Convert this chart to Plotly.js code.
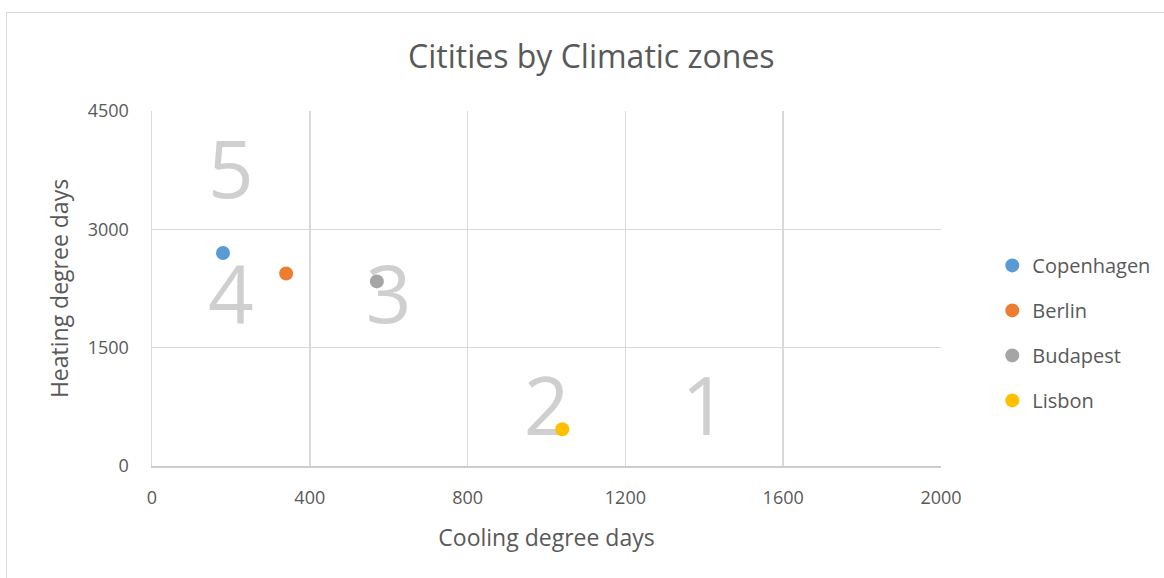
<!DOCTYPE html>
<html>
<head>
<meta charset="utf-8">
<script src="https://cdn.plot.ly/plotly-3.0.1.min.js"></script>
<style>
  html, body { margin: 0; padding: 0; background: #fff; overflow: hidden; }
  #chart { width: 1164px; height: 578px; position: absolute; left: 0; top: 0; }
  #frame { position: absolute; left: 6px; top: 12px; width: 1300px; height: 700px;
           border-left: 1.5px solid #d9d9d9; border-top: 1.5px solid #d9d9d9; pointer-events: none; }
</style>
</head>
<body>
<div id="chart"></div>
<div id="frame"></div>
<script>
// Data
const cities = ['Copenhagen', 'Berlin', 'Budapest', 'Lisbon'];
const coolingDD = [180, 340, 570, 1040];
const heatingDD = [2700, 2440, 2340, 465];
const cityColors = ['#5B9BD5', '#ED7D31', '#A5A5A5', '#FFC000'];

const zoneLabels = ['5', '4', '3', '2', '1'];
const zoneCooling = [200, 200, 600, 1000, 1400];
const zoneHeating = [3650, 2060, 2060, 650, 650];

const xTicks = [0, 400, 800, 1200, 1600, 2000];
const yTicks = [0, 1500, 3000, 4500];

const FONT = 'Open Sans, Noto Sans, Liberation Sans, sans-serif';
const TXT = '#595959';

const traces = [{
  type: 'scatter', mode: 'text',
  x: zoneCooling, y: zoneHeating, text: zoneLabels,
  textfont: { family: FONT, size: 80, color: '#cfcfcf' },
  showlegend: false, hoverinfo: 'skip'
}];

cities.forEach((c, i) => {
  traces.push({
    type: 'scatter', mode: 'markers', name: c,
    x: [coolingDD[i]], y: [heatingDD[i]],
    marker: { color: cityColors[i], size: 14 },
    legendgroup: c
  });
});

const layout = {
  width: 1164, height: 578,
  margin: { l: 152, r: 223, t: 111, b: 112, autoexpand: false },
  paper_bgcolor: '#ffffff', plot_bgcolor: '#ffffff',
  font: { family: FONT, color: TXT, size: 18 },
  title: {
    text: 'Citities by Climatic zones',
    font: { family: FONT, size: 32, color: TXT },
    x: 0.508, xref: 'container', xanchor: 'center',
    y: 1 - 57 / 578, yref: 'container', yanchor: 'middle'
  },
  xaxis: {
    range: [0, 2000], tickvals: xTicks, ticktext: xTicks.map(String),
    showgrid: true, gridcolor: '#d9d9d9', gridwidth: 1.5,
    zeroline: false, showline: true, linecolor: '#cccccc', linewidth: 1.5,
    ticks: '', ticklabelstandoff: 15,
    tickfont: { family: FONT, size: 18, color: TXT },
    title: { text: 'Cooling degree days', font: { family: FONT, size: 23, color: TXT }, standoff: 22 },
    fixedrange: true
  },
  yaxis: {
    range: [0, 4500], tickvals: yTicks, ticktext: yTicks.map(String),
    showgrid: true, gridcolor: '#d9d9d9', gridwidth: 1.5,
    zeroline: false, showline: true, linecolor: '#d9d9d9', linewidth: 1.5,
    ticks: '', ticklabelstandoff: 18,
    tickfont: { family: FONT, size: 18, color: TXT },
    title: { text: 'Heating degree days', font: { family: FONT, size: 23, color: TXT }, standoff: 12 },
    fixedrange: true
  },
  legend: {
    x: 1.065, xanchor: 'left', y: 0.375, yanchor: 'middle',
    font: { family: FONT, size: 20, color: TXT },
    tracegroupgap: 16, itemwidth: 30, bgcolor: 'rgba(0,0,0,0)'
  },
  showlegend: true
};

Plotly.newPlot('chart', traces, layout, { displayModeBar: false, staticPlot: true });
</script>
</body>
</html>
